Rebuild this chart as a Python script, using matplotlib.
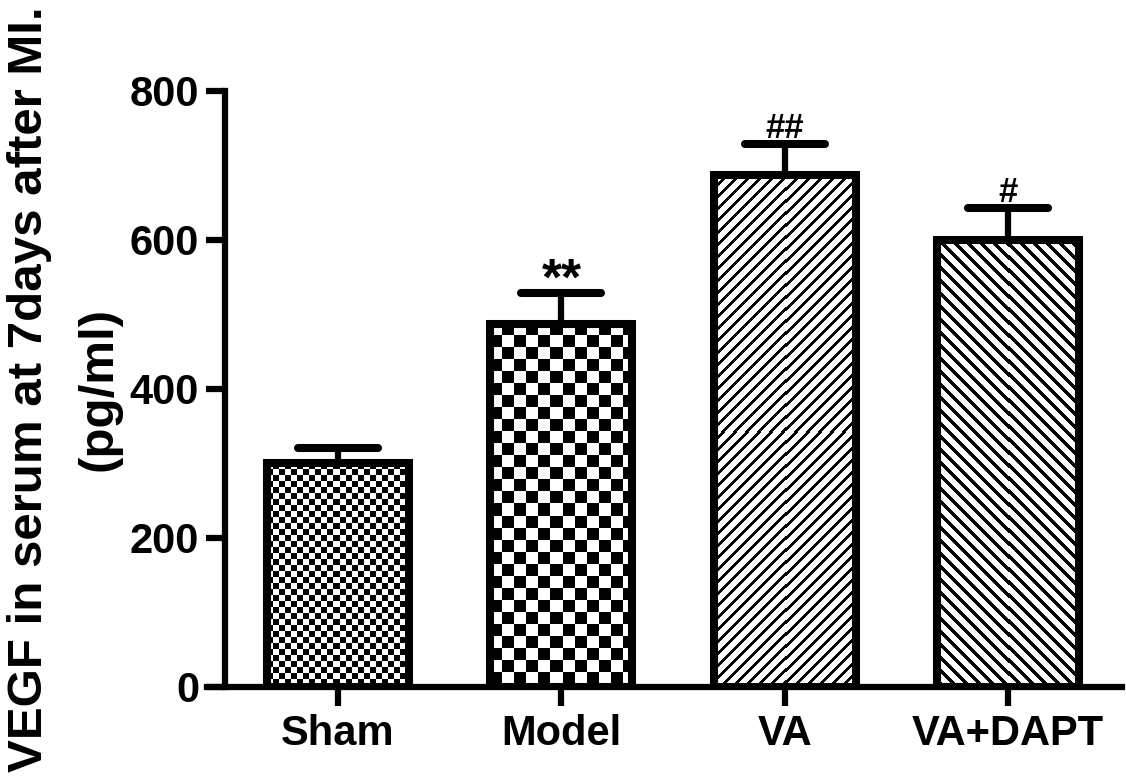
import numpy as np
import matplotlib
matplotlib.use('Agg')
import matplotlib.pyplot as plt
from matplotlib.markers import MarkerStyle

# ---- data ----
groups = ['Sham', 'Model', 'VA', 'VA+DAPT']
means = [300, 487, 687, 599]
errors = [20, 42, 41, 44]
marks = ['', '**', '##', '#']
yticks = [0, 200, 400, 600, 800]
ylabel = 'VEGF in serum at 7days after MI.\n(pg/ml)'

plt.rcParams['font.family'] = ['Liberation Sans', 'DejaVu Sans']

W, H, DPI = 1126, 782, 100
fig = plt.figure(figsize=(W / DPI, H / DPI), dpi=DPI)
fig.patch.set_facecolor('white')
ax = fig.add_axes([207 / W, 95 / H, 915 / W, 596.5 / H])

x = np.arange(len(groups))
ax.set_xlim(-0.587, 3.511)
ax.set_ylim(0, 800)

bars = ax.bar(x, means, width=0.636, facecolor='none', edgecolor='black',
              linewidth=5.8, zorder=3)


def pattern(kind, h, w):
    r, c = np.mgrid[0:h, 0:w]
    if kind == 'fine':
        return ((r // 6 + c // 6) % 2).astype(float)
    if kind == 'coarse':
        return ((r // 12 + c // 12) % 2).astype(float)
    if kind == 'fwd':
        return (((r + c) % 12) < 4).astype(float)
    return (((c - r) % 13) < 5).astype(float)


kinds = ['fine', 'coarse', 'fwd', 'back']
for bar, kind in zip(bars, kinds):
    x0, y0 = bar.get_x(), bar.get_y()
    x1, y1 = x0 + bar.get_width(), y0 + bar.get_height()
    (px0, py0), (px1, py1) = ax.transData.transform([(x0, y0), (x1, y1)])
    w = int(round(px1 - px0))
    h = int(round(py1 - py0))
    img = pattern(kind, h, w)
    im = ax.imshow(img, cmap='gray_r', vmin=0, vmax=1, extent=(x0, x1, y0, y1),
                   origin='upper', interpolation='nearest', aspect='auto', zorder=2)
    im.set_clip_path(bar)

ax.set_xlim(-0.587, 3.511)
ax.set_ylim(0, 800)

eb = ax.errorbar(x, means, yerr=[np.zeros(len(errors)), errors], fmt='none',
                 ecolor='black', elinewidth=4.5, capsize=29, capthick=5.8, zorder=4)
for cap in eb[1]:
    if np.allclose(cap.get_ydata(), means):
        cap.set_visible(False)
    else:
        cap.set_marker(MarkerStyle('_', capstyle='round'))

for xi, m, e, t in zip(x, means, errors, marks):
    if not t:
        continue
    if t.startswith('*'):
        ax.annotate(t, (xi, m + e), xytext=(0, -1.5), textcoords='offset points',
                    ha='center', va='baseline', fontsize=37, fontweight='bold')
    else:
        ax.annotate(t, (xi, m + e), xytext=(0, 4.3), textcoords='offset points',
                    ha='center', va='baseline', fontsize=25, fontweight='bold')

ax.spines['top'].set_visible(False)
ax.spines['right'].set_visible(False)
ax.spines['left'].set_position(('data', -0.506))
for s in ['left', 'bottom']:
    ax.spines[s].set_linewidth(4.5)

ax.set_xticks(x, groups)
ax.set_yticks(yticks)
ax.tick_params(axis='both', direction='out', length=13.7, width=4.5, labelsize=30)
ax.tick_params(axis='y', pad=5)
ax.tick_params(axis='x', pad=6)
for lab in ax.get_xticklabels() + ax.get_yticklabels():
    lab.set_fontweight('bold')

ax.set_ylabel(ylabel, fontsize=35.5, fontweight='bold', linespacing=1.7)
ax.yaxis.set_label_coords(-0.093, 0.5)

fig.savefig('out.png', dpi=DPI, facecolor='white')
